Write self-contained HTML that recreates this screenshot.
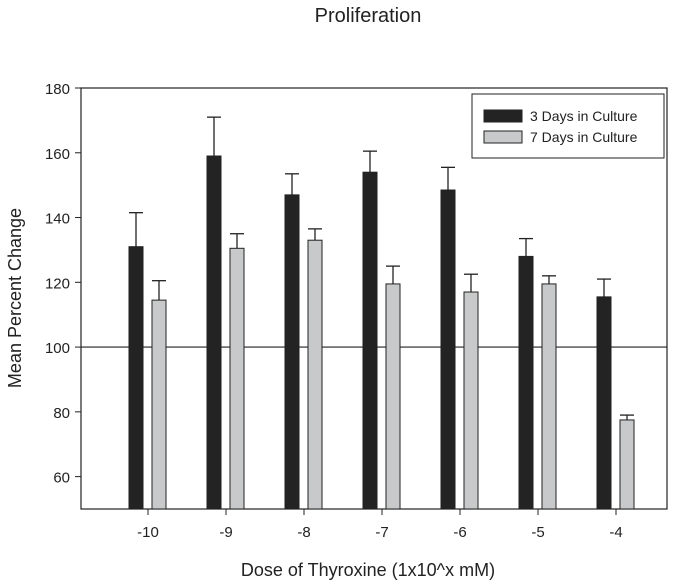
<!DOCTYPE html>
<html><head><meta charset="utf-8"><style>
body{margin:0;background:#fff;}
svg{display:block;font-family:"Liberation Sans",Arial,sans-serif;}
</style></head><body>
<svg id="c" width="690" height="585">
<text x="368" y="22" font-size="20" text-anchor="middle" fill="#222">Proliferation</text>
<text x="368" y="576" font-size="18" text-anchor="middle" fill="#222">Dose of Thyroxine (1x10^x mM)</text>
<text transform="translate(21,298) rotate(-90)" font-size="18" text-anchor="middle" fill="#222">Mean Percent Change</text>
<g id="g"></g>
<g>
<rect x="472" y="94" width="192" height="64" fill="#fff" stroke="#222" stroke-width="1"/>
<rect x="484" y="110" width="38" height="12" fill="#232323" stroke="#222"/>
<text x="530" y="121" font-size="14" fill="#222">3 Days in Culture</text>
<rect x="484" y="131" width="38" height="12" fill="#c8c9cb" stroke="#222"/>
<text x="530" y="142" font-size="14" fill="#222">7 Days in Culture</text>
</g>
</svg>
<script>
const categories=["-10","-9","-8","-7","-6","-5","-4"];
const day3=[131,159,147,154,148.5,128,115.5];
const day3Err=[10.5,12,6.5,6.5,7,5.5,5.5];
const day7=[114.5,130.5,133,119.5,117,119.5,77.5];
const day7Err=[6,4.5,3.5,5.5,5.5,2.5,1.5];
const yTicks=[60,80,100,120,140,160,180];
const L=81,R=667,T=88,B=509,ymin=50,ymax=180;
const y=v=>B-(v-ymin)/(ymax-ymin)*(B-T);
const x=i=>148+i*78;
const ns="http://www.w3.org/2000/svg";
const g=document.getElementById('g');
function el(t,a){const e=document.createElementNS(ns,t);for(const k in a)e.setAttribute(k,a[k]);g.appendChild(e);return e;}
let f=el('rect',{x:L,y:T,width:R-L,height:B-T,fill:'none',stroke:'#222','stroke-width':1.2});


yTicks.forEach(t=>{
 let l=el('line',{x1:L-6,x2:L,y1:y(t),y2:y(t),stroke:'#222'});
 
 
 let tx=el('text',{x:L-11,y:y(t)+6,'font-size':15,'text-anchor':'end',fill:'#222'});tx.textContent=t;
 
 
});
let ref=el('line',{x1:L,x2:R,y1:y(100),y2:y(100),stroke:'#222','stroke-width':1.2});


function bar(cx,v,e,fill,name){
 let r=el('rect',{x:cx-7,y:y(v),width:14,height:B-y(v),fill:fill,stroke:'#222','stroke-width':1});
 
 
 let el1=el('line',{x1:cx,x2:cx,y1:y(v),y2:y(v+e),stroke:'#222','stroke-width':1.3});
 
 
 let c=el('line',{x1:cx-7,x2:cx+7,y1:y(v+e),y2:y(v+e),stroke:'#222','stroke-width':1.3});
 
 
}
categories.forEach((c,i)=>{
 bar(x(i)-12,day3[i],day3Err[i],'#232323','bar-3-days');
 bar(x(i)+11,day7[i],day7Err[i],'#c8c9cb','bar-7-days');
 let tk=el('line',{x1:x(i),x2:x(i),y1:B,y2:B+6,stroke:'#222'});
 
 
 let tx=el('text',{x:x(i),y:B+28,'font-size':15,'text-anchor':'middle',fill:'#222'});tx.textContent=c;
 
 
});
</script>
</body></html>
